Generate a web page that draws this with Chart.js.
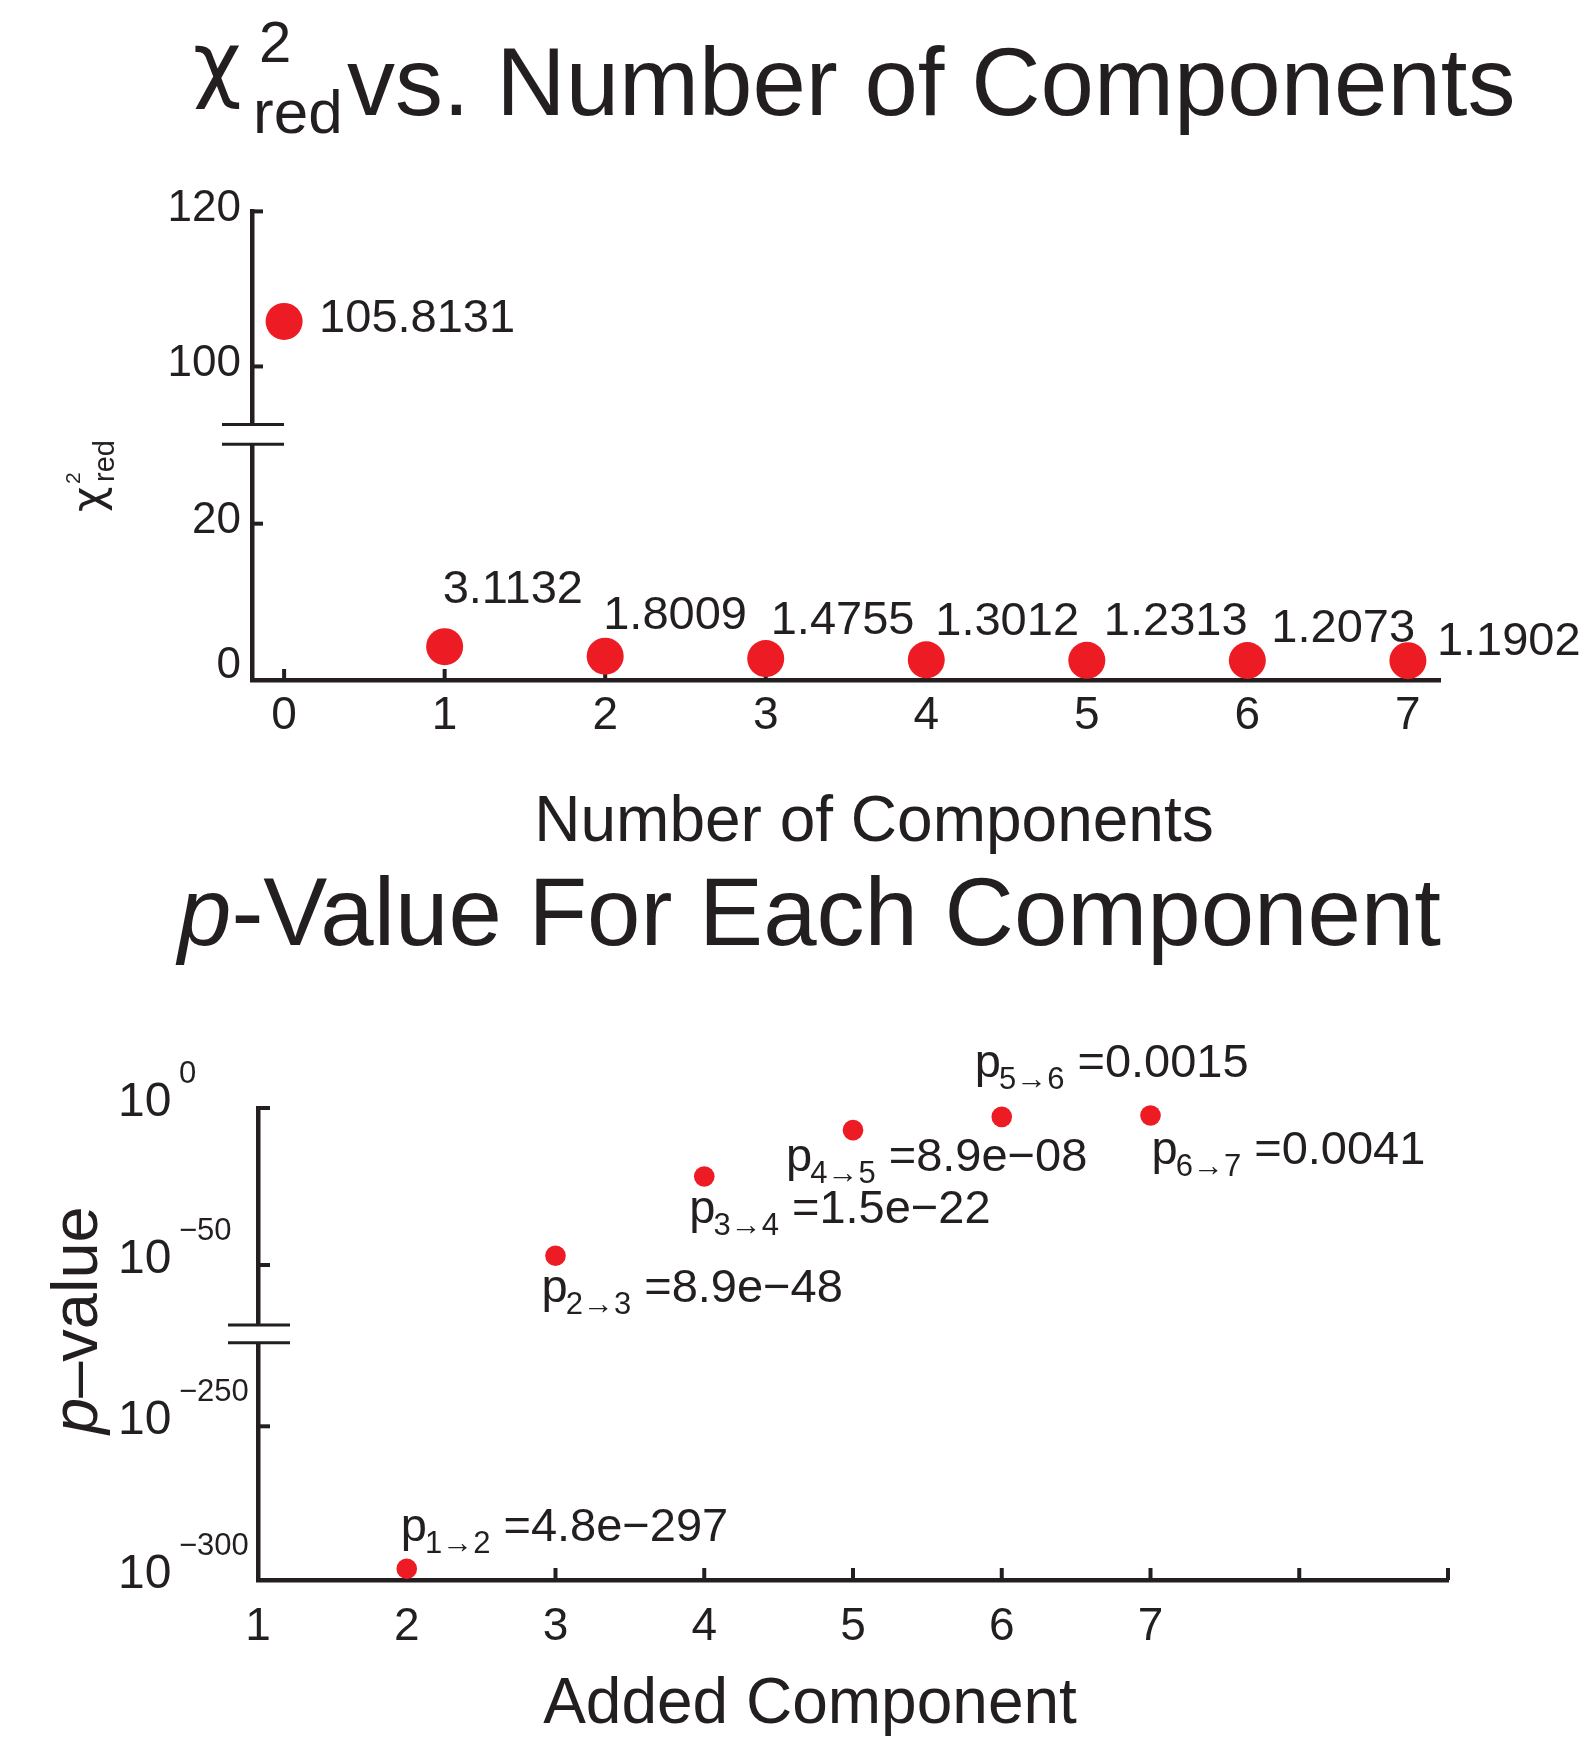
<!DOCTYPE html>
<html>
<head>
<meta charset="utf-8">
<title>Reduced chi-square and p-values</title>
<script src="https://cdn.jsdelivr.net/npm/chart.js@4.4.1/dist/chart.umd.min.js"></script>
<style>
body { margin: 0; background: #fff; }
#page { position: relative; width: 1581px; height: 1743px; overflow: hidden;
        font-family: "Liberation Sans", Arial, Helvetica, sans-serif; color: #231f20; }
#page canvas { position: absolute; left: 0; }
.t { position: absolute; white-space: nowrap; line-height: 1; }
.chi { font-family: "DejaVu Sans", sans-serif; }
</style>
</head>
<body>
<div id="page">
  <canvas id="chi-chart" width="1581" height="780" style="top:0;width:1581px;height:780px"></canvas>
  <canvas id="p-chart" width="1581" height="783" style="top:960px;width:1581px;height:783px"></canvas>
</div>
<script>
// --- data ---
const components = [0, 1, 2, 3, 4, 5, 6, 7];
const componentLabels = ['0', '1', '2', '3', '4', '5', '6', '7'];
const chiRed = [105.8131, 3.1132, 1.8009, 1.4755, 1.3012, 1.2313, 1.2073, 1.1902];
const chiTicks = [0, 20, 100, 120];

const addedComponent = [2, 3, 4, 5, 6, 7];
const pValues = [4.8e-297, 8.9e-48, 1.5e-22, 8.9e-8, 0.0015, 0.0041];
const pTickExponents = [0, -50, -250, -300];
const addedTicks = [1, 2, 3, 4, 5, 6, 7, 8, 9];
const addedTickLabels = ['1', '2', '3', '4', '5', '6', '7', '', ''];

// label placement (left edge / baseline relative to the point)
const chiLabelOffsets = [[35, 11], [-2, -44], [-2, -27], [5, -25], [9, -25], [17, -25], [24, -19], [29, -6]];
const pLabelOffsets = [[-6, -28], [-14, 46], [-15, 46], [-67, 41], [-27, -40], [1, 49]];

const ink = '#231f20';
const red = '#ed1c24';
const font = '"Liberation Sans", Arial, Helvetica, sans-serif';

Chart.defaults.font.family = font;
Chart.defaults.color = ink;

// broken axis: two linear pieces with a gap, measured in chart pixels
function brokenAxis(lower, upper, lowerPx, gapPx, upperPx) {
  return {
    size: lowerPx + gapPx + upperPx,
    breakAt: [lowerPx, lowerPx + gapPx],
    map(v) {
      if (v <= lower[1]) return (v - lower[0]) / (lower[1] - lower[0]) * lowerPx;
      return lowerPx + gapPx + (v - upper[0]) / (upper[1] - upper[0]) * upperPx;
    }
  };
}
const chiAxis = brokenAxis([-1.47, 30.9], [92.5, 120], 235.7, 19.7, 213.2);
const pAxis = brokenAxis([-300, -222.8], [-69.1, 0], 237.3, 17.7, 217);

function formatP(v) {
  if (v >= 1e-3) return v.toFixed(4);
  const parts = v.toExponential(1).split('e');
  return parts[0] + 'e\u2212' + String(Math.abs(+parts[1])).padStart(2, '0');
}

// inward ticks + axis break marks, drawn under the points
function axisExtras(axis, tickLen) {
  return {
    id: 'axisExtras',
    beforeDatasetsDraw(chart) {
      const {ctx, chartArea: a, scales: {x, y}} = chart;
      ctx.save();
      ctx.strokeStyle = ink;
      ctx.lineWidth = 4;
      x.ticks.forEach(t => {
        const px = x.getPixelForValue(t.value);
        if (px - a.left < 3) return;
        ctx.beginPath(); ctx.moveTo(px, a.bottom); ctx.lineTo(px, a.bottom - tickLen); ctx.stroke();
      });
      y.ticks.forEach(t => {
        const py = y.getPixelForValue(t.value);
        if (a.bottom - py < 15) return;
        ctx.beginPath(); ctx.moveTo(a.left, py); ctx.lineTo(a.left + tickLen, py); ctx.stroke();
      });
      const y1 = y.getPixelForValue(axis.breakAt[0]);
      const y2 = y.getPixelForValue(axis.breakAt[1]);
      ctx.fillStyle = '#fff';
      ctx.fillRect(a.left - 6, y2, 12, y1 - y2);
      ctx.lineWidth = 3;
      [y1, y2].forEach(py => {
        ctx.beginPath(); ctx.moveTo(a.left - 30, py); ctx.lineTo(a.left + 32, py); ctx.stroke();
      });
      ctx.restore();
    }
  };
}

const chiLabels = {
  id: 'chiLabels',
  afterDatasetsDraw(chart) {
    const ctx = chart.ctx;
    const pts = chart.getDatasetMeta(0).data;
    ctx.save();
    ctx.fillStyle = ink;
    ctx.font = '47px ' + font;
    ctx.textBaseline = 'alphabetic';
    pts.forEach((p, i) => {
      ctx.fillText(chiRed[i].toFixed(4), p.x + chiLabelOffsets[i][0], p.y + chiLabelOffsets[i][1]);
    });
    ctx.restore();
  }
};

const pLabels = {
  id: 'pLabels',
  afterDatasetsDraw(chart) {
    const ctx = chart.ctx;
    const pts = chart.getDatasetMeta(0).data;
    ctx.save();
    ctx.fillStyle = ink;
    ctx.textBaseline = 'alphabetic';
    pts.forEach((p, i) => {
      let x = p.x + pLabelOffsets[i][0];
      const base = p.y + pLabelOffsets[i][1];
      ctx.font = '47px ' + font;
      ctx.fillText('p', x, base);
      x += ctx.measureText('p').width - 2;
      const sub = (addedComponent[i] - 1) + '\u2192' + addedComponent[i];
      ctx.font = '31px ' + font;
      ctx.fillText(sub, x, base + 12);
      x += ctx.measureText(sub).width;
      ctx.font = '47px ' + font;
      ctx.fillText(' =' + formatP(pValues[i]), x, base);
    });
    // y tick labels 10^n
    const y = chart.scales.y;
    const left = chart.chartArea.left - 140;
    y.ticks.forEach((t, i) => {
      const py = y.getPixelForValue(t.value) + 8;
      ctx.font = '48px ' + font;
      ctx.fillText('10', left, py);
      ctx.font = '31px ' + font;
      ctx.fillText(String(pTickExponents[i]).replace('-', '\u2212'), left + 61, py - 33);
    });
    ctx.restore();
  }
};

const noInteraction = { legend: { display: false }, tooltip: { enabled: false } };

new Chart(document.getElementById('chi-chart'), {
  type: 'scatter',
  data: {
    datasets: [{
      data: components.map((c, i) => ({ x: c, y: chiAxis.map(chiRed[i]) })),
      backgroundColor: red,
      borderWidth: 0,
      pointRadius: 18.5,
      pointHoverRadius: 18.5,
      clip: false
    }]
  },
  options: {
    responsive: false,
    animation: false,
    events: [],
    layout: { padding: { top: 211.4, right: 141, bottom: 0, left: 0 } },
    plugins: noInteraction,
    scales: {
      x: {
        type: 'linear', min: -0.2, max: 7.2,
        afterBuildTicks: a => { a.ticks = components.map(v => ({ value: v })); },
        afterFit: a => { a.height = 100; },
        grid: { display: false, drawTicks: false },
        border: { color: ink, width: 4.5 },
        ticks: { callback: (v, i) => componentLabels[i], font: { size: 46 }, padding: 9,
                 color: ink, maxRotation: 0, autoSkip: false }
      },
      y: {
        type: 'linear', min: 0, max: chiAxis.size,
        afterBuildTicks: a => { a.ticks = chiTicks.map(v => ({ value: chiAxis.map(v) })); },
        afterFit: a => { a.width = 252; },
        grid: { display: false, drawTicks: false },
        border: { color: ink, width: 4.5 },
        ticks: { callback: (v, i) => chiTicks[i], font: { size: 44 }, padding: 11,
                 labelOffset: -3, color: ink, autoSkip: false }
      }
    }
  },
  plugins: [axisExtras(chiAxis, 11), chiLabels]
});

new Chart(document.getElementById('p-chart'), {
  type: 'scatter',
  data: {
    datasets: [{
      data: addedComponent.map((c, i) => ({ x: c, y: pAxis.map(Math.log10(pValues[i])) })),
      backgroundColor: red,
      borderWidth: 0,
      pointRadius: 10.3,
      pointHoverRadius: 10.3,
      clip: false
    }]
  },
  options: {
    responsive: false,
    animation: false,
    events: [],
    layout: { padding: { top: 148, right: 133, bottom: 0, left: 0 } },
    plugins: noInteraction,
    scales: {
      x: {
        type: 'linear', min: 1, max: 9,
        afterBuildTicks: a => { a.ticks = addedTicks.map(v => ({ value: v })); },
        afterFit: a => { a.height = 163; },
        grid: { display: false, drawTicks: false },
        border: { color: ink, width: 4.5 },
        ticks: { callback: (v, i) => addedTickLabels[i], font: { size: 46 }, padding: 20,
                 color: ink, maxRotation: 0, autoSkip: false }
      },
      y: {
        type: 'linear', min: 0, max: pAxis.size,
        afterBuildTicks: a => { a.ticks = pTickExponents.map(e => ({ value: pAxis.map(e) })); },
        afterFit: a => { a.width = 258; },
        grid: { display: false, drawTicks: false },
        border: { color: ink, width: 4.5 },
        ticks: { display: false }
      }
    }
  },
  plugins: [axisExtras(pAxis, 12), pLabels]
});

// --- titles and axis titles (html text) ---
const page = document.getElementById('page');
function addText(html, x, baseline, size, style, parent) {
  const el = document.createElement('div');
  el.className = 't';
  el.innerHTML = html;
  el.style.left = x + 'px';
  el.style.top = (baseline - 0.8465 * size) + 'px';
  el.style.fontSize = size + 'px';
  if (style) Object.assign(el.style, style);
  (parent || page).appendChild(el);
  return el;
}

addText('<span class="chi">\u03c7</span>', 193, 92, 84);
addText('2', 259, 62, 58);
addText('red', 253, 133, 62);
addText('vs. Number of Components', 347, 115, 96);
addText('Number of Components', 874, 841, 64, { transform: 'translateX(-50%)' });

addText('<i>p</i>-Value For Each Component', 178, 945, 96);
addText('Added Component', 810, 1723, 64, { transform: 'translateX(-50%)' });

// rotated y titles
const chiTitle = document.createElement('div');
Object.assign(chiTitle.style, { position: 'absolute', left: '65px', top: '512px', width: '74px', height: '50px',
  transformOrigin: '0 0', transform: 'rotate(-90deg)' });
page.appendChild(chiTitle);
addText('<span class="chi">\u03c7</span>', 0, 38, 44, null, chiTitle);
addText('2', 28, 14.3, 21, null, chiTitle);
addText('red', 30, 50, 29, null, chiTitle);

const pTitle = addText('<i>p</i>\u2013value', 0, 100, 65);
Object.assign(pTitle.style, { left: '42px', top: '1434px', transformOrigin: '0 0', transform: 'rotate(-90deg)' });
</script>
</body>
</html>
